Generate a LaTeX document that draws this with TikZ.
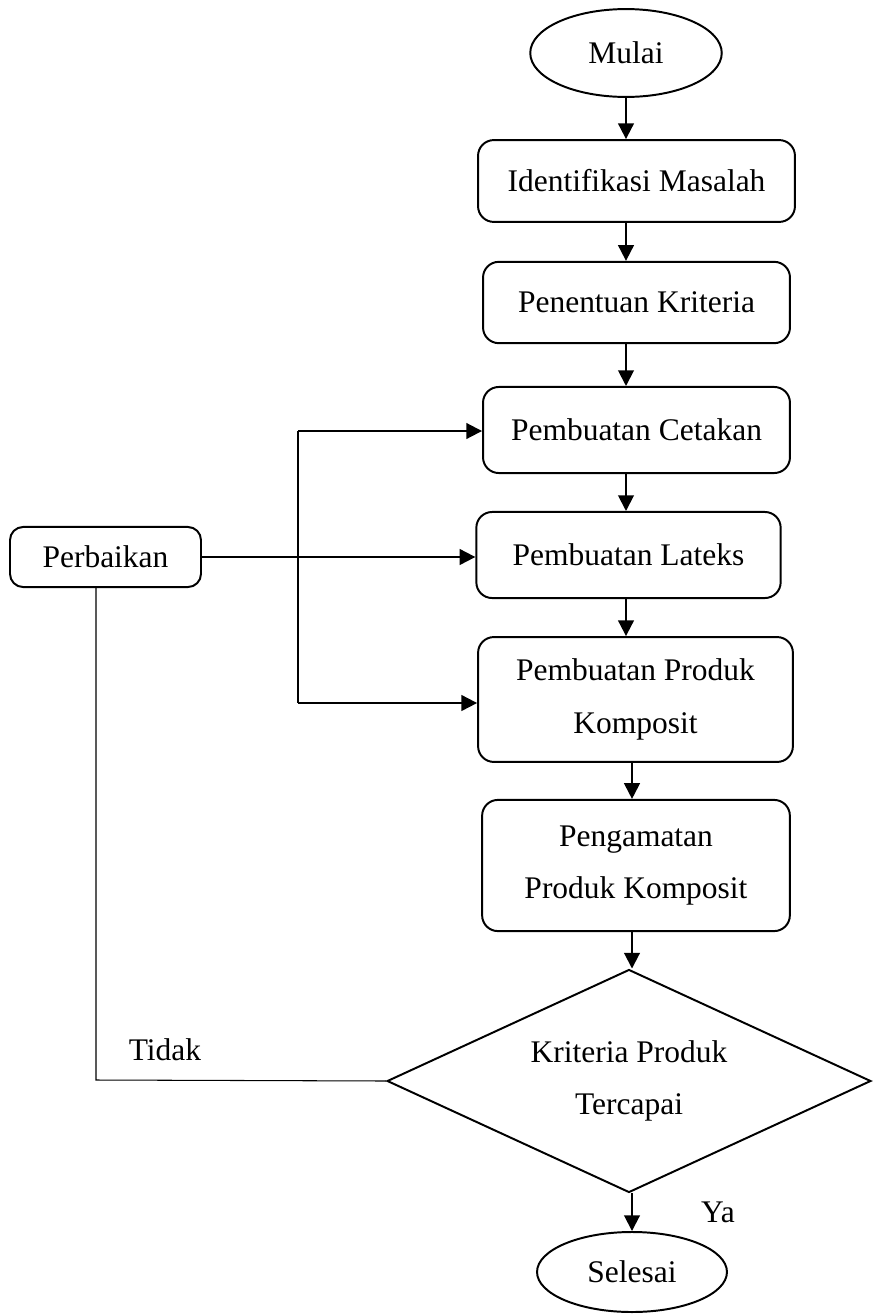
\documentclass[tikz,border=0pt]{standalone}
\usepackage{fontspec}
\setmainfont{Liberation Serif}
\usetikzlibrary{shapes.geometric,arrows.meta}
\begin{document}
\begin{tikzpicture}[
    x=0.0134cm, y=-0.0134cm,
    every node/.style={font=\fontsize{12}{20}\selectfont},
    proses/.style={draw, line width=0.75pt, rounded corners=6pt, align=center, inner sep=2pt},
    terminal/.style={draw, ellipse, line width=0.75pt, inner sep=0pt},
    keputusan/.style={draw, diamond, line width=0.75pt, aspect=2.18, inner sep=0pt, align=center},
    panah/.style={draw, line width=0.75pt, -{Triangle[length=6pt,width=6pt]}},
    garis/.style={draw, line width=0.4pt}
]
    \useasboundingbox (0,0) rectangle (872,1316);

    % Alur utama
    \node[terminal, minimum width=73pt, minimum height=33.5pt] (mulai) at (626,53) {Mulai};
    \node[proses, minimum width=120.8pt, minimum height=31.2pt] (identifikasi) at (636.5,181) {Identifikasi Masalah};
    \node[proses, minimum width=117pt, minimum height=31pt] (kriteria) at (636.5,302.5) {Penentuan Kriteria};
    \node[proses, minimum width=117pt, minimum height=32.8pt] (cetakan) at (636.5,430) {Pembuatan Cetakan};
    \node[proses, minimum width=116pt, minimum height=32.8pt] (lateks) at (628.5,555) {Pembuatan Lateks};
    \node[proses, minimum width=120pt, minimum height=47.6pt] (komposit) at (635.5,699.5) {Pembuatan Produk\\Komposit};
    \node[proses, minimum width=117.3pt, minimum height=50pt] (pengamatan) at (636,865.5) {Pengamatan\\Produk Komposit};
    \node[keputusan, minimum width=184.4pt, minimum height=85pt] (cek) at (629,1081) {Kriteria Produk\\Tercapai};
    \node[terminal, minimum width=72.4pt, minimum height=30.5pt] (selesai) at (632,1272) {Selesai};

    % Perbaikan
    \node[proses, minimum width=72.8pt, minimum height=22.9pt, rounded corners=5pt] (perbaikan) at (105.5,557) {Perbaikan};
    \coordinate (cabangA) at (298,431);
    \coordinate (cabangB) at (298,703);
    \coordinate (sudut) at (96,1080);

    % Panah vertikal
    \draw[panah] (mulai.south) -- (mulai.south |- identifikasi.north);
    \draw[panah] (identifikasi.south -| mulai.south) -- (kriteria.north -| mulai.south);
    \draw[panah] (kriteria.south -| mulai.south) -- (cetakan.north -| mulai.south);
    \draw[panah] (cetakan.south -| mulai.south) -- (lateks.north -| mulai.south);
    \draw[panah] (lateks.south -| mulai.south) -- (komposit.north -| mulai.south);
    \draw[panah] (komposit.south -| selesai.north) -- (pengamatan.north -| selesai.north);
    \draw[panah] (pengamatan.south -| selesai.north) -- (cek.north -| selesai.north);
    \draw[panah] (cek.south -| selesai.north) -- (selesai.north);

    % Umpan balik
    \draw[panah] (perbaikan.east) -- (perbaikan.east -| lateks.west);
    \draw[line width=0.6pt] (cabangA) -- (cabangB);
    \draw[panah] (cabangA) -- (cabangA -| cetakan.west);
    \draw[panah] (cabangB) -- (cabangB -| komposit.west);
    \draw[garis] (perbaikan.south -| sudut) -- (sudut) -- (cek.west);

    \node (tidak) at (165,1050) {Tidak};
    \node (ya) at (718,1212) {Ya};
\end{tikzpicture}
\end{document}
